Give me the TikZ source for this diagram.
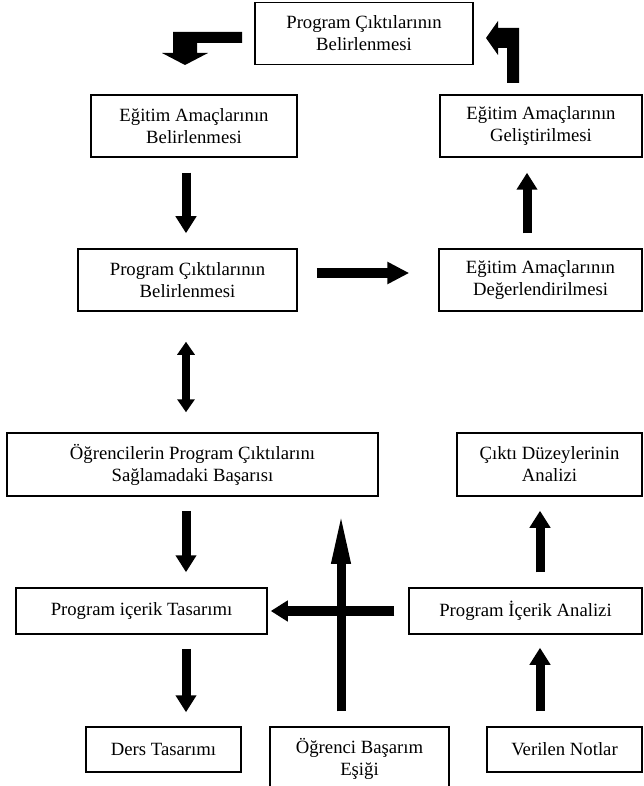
\documentclass[tikz,border=0pt]{standalone}
\usepackage{fontspec}
\setmainfont{Liberation Serif}
\usetikzlibrary{arrows.meta}

\begin{document}
\begin{tikzpicture}[
  x=1pt, y=-1pt,
  box/.style={draw, line width=1.5pt, align=center, inner sep=0pt, minimum height=62pt,
    font=\fontsize{18.7}{22}\selectfont},
  lowbox/.style={box, minimum height=46pt},
  arr/.style={line width=9pt, -{Triangle[length=17pt,width=20pt]}},
  widearr/.style={line width=10pt, -{Triangle[length=22pt,width=21pt]}},
  longarr/.style={line width=9pt, -{Triangle[length=53pt,width=17pt]}},
  dblarr/.style={line width=8pt, {Triangle[length=13pt,width=17pt]}-{Triangle[length=13pt,width=17pt]}}
]
\useasboundingbox (0,0) rectangle (644,786);
\clip (0,0) rectangle (644,786);

% columns for the arrows
\coordinate (colL) at (186,0);
\coordinate (colM) at (341,0);
\coordinate (colR) at (527,0);
\coordinate (colRR) at (540,0);
\coordinate (rowC) at (0,273);

\node[box, minimum width=218pt] (top) at (364,33.5) {Program Çıktılarının\\Belirlenmesi};
\node[box, minimum width=206pt] (amac) at (194,126) {Eğitim Amaçlarının\\Belirlenmesi};
\node[box, minimum width=202pt] (gelis) at (541,126) {Eğitim Amaçlarının\\Geliştirilmesi};
\node[box, minimum width=219pt] (cikti) at (187.5,280) {Program Çıktılarının\\Belirlenmesi};
\node[box, minimum width=203pt] (deger) at (540.5,280) {Eğitim Amaçlarının\\Değerlendirilmesi};
\node[box, minimum width=371pt, minimum height=63pt] (basari) at (192.5,464.5) {Öğrencilerin Program Çıktılarını\\Sağlamadaki Başarısı};
\node[box, minimum width=185pt, minimum height=63pt] (duzey) at (549.5,464.5) {Çıktı Düzeylerinin\\Analizi};
\node[lowbox, minimum width=251pt] (tasarim) at (141.5,611) {Program içerik Tasarımı};
\node[lowbox, minimum width=233pt] (analiz) at (525.5,611) {Program İçerik Analizi};
\node[lowbox, minimum width=155pt, minimum height=45pt] (ders) at (163.5,749.5) {Ders Tasarımı};
\node[box, minimum width=179pt, minimum height=64pt] (esik) at (359.5,759) {Öğrenci Başarım\\Eşiği};
\node[lowbox, minimum width=155pt, minimum height=45pt] (notlar) at (564.5,749.5) {Verilen Notlar};

% bent arrows round the top box
\fill (242,32) -- (242,43) -- (197,43) -- (197,53) -- (208,53) -- (185,65)
  -- (162,53) -- (173,53) -- (173,32) -- cycle;
\fill (507,83) -- (507,48) -- (498,48) -- (498,55) -- (486,38) -- (498,21)
  -- (498,28) -- (519,28) -- (519,83) -- cycle;

\draw[arr, shorten <=15pt, shorten >=15pt] (amac.south -| colL) -- (cikti.north -| colL);
\draw[widearr, shorten <=19pt, shorten >=29pt] (cikti.east |- rowC) -- (deger.west |- rowC);
\draw[arr, shorten <=15pt, shorten >=15pt] (deger.north -| colR) -- (gelis.south -| colR);
\draw[dblarr, shorten <=30pt, shorten >=20pt] (cikti.south -| colL) -- (basari.north -| colL);
\draw[arr, shorten <=14pt, shorten >=15pt] (basari.south -| colL) -- (tasarim.north -| colL);
\draw[longarr, shorten <=15pt, shorten >=14pt] (esik.north -| colM) -- (basari.south -| colM);
\draw[arr, line width=10pt, shorten <=14pt, shorten >=3pt] (analiz.west) -- (tasarim.east);
\draw[arr, shorten <=14pt, shorten >=14pt] (tasarim.south -| colL) -- (ders.north -| colL);
\draw[arr, shorten <=15pt, shorten >=13pt] (notlar.north -| colRR) -- (analiz.south -| colRR);
\draw[arr, shorten <=15pt, shorten >=14pt] (analiz.north -| colRR) -- (duzey.south -| colRR);
\end{tikzpicture}
\end{document}
